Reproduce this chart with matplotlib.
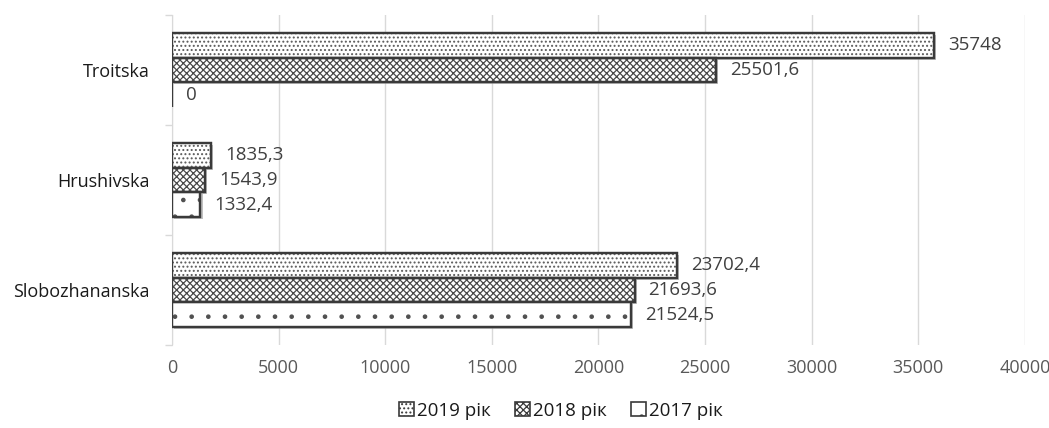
import matplotlib
matplotlib.use("Agg")
import matplotlib.pyplot as plt
import matplotlib.patheffects as pe
import matplotlib.patches as mpatches
import numpy as np

plt.rcParams['font.family'] = ['Open Sans', 'DejaVu Sans']
plt.rcParams['hatch.linewidth'] = 0.9

categories = ["Slobozhananska", "Hrushivska", "Troitska"]
series_names = ["2019 рік", "2018 рік", "2017 рік"]
v2019 = [23702.4, 1835.3, 35748]
v2018 = [21693.6, 1543.9, 25501.6]
v2017 = [21524.5, 1332.4, 0]
labels2019 = ["23702,4", "1835,3", "35748"]
labels2018 = ["21693,6", "1543,9", "25501,6"]
labels2017 = ["21524,5", "1332,4", "0"]
x_ticks = [0, 5000, 10000, 15000, 20000, 25000, 30000, 35000, 40000]

fig = plt.figure(figsize=(10.49, 4.28), dpi=100)
ax = fig.add_axes([0.164, 0.194, 0.813, 0.771])

y = np.arange(len(categories))
h = 0.225
hatches = ['....', 'xxxxx', '.']
hatch_colors = ['#5a5a5a', '#4a4a4a', '#505050']
series = [v2019, v2018, v2017]
labs = [labels2019, labels2018, labels2017]
offsets = [h, 0, -h]
shadow = [pe.SimplePatchShadow(offset=(1.5, -1.5), shadow_rgbFace='#999999', alpha=0.6), pe.Normal()]
handles = []
for vals, lab, hatch, hc, off, name in zip(series, labs, hatches, hatch_colors, offsets, series_names):
    border = ax.barh(y + off, vals, height=h, color='white', edgecolor='#3a3a3a',
                     linewidth=1.6, zorder=3)
    for b in border:
        b.set_path_effects(shadow)
    ax.barh(y + off, vals, height=h, color='none', edgecolor=hc,
            linewidth=0, hatch=hatch, zorder=4)
    ax.barh(y + off, vals, height=h, fill=False, edgecolor='#3a3a3a',
            linewidth=1.6, zorder=5)
    for b, t in zip(border, lab):
        ax.annotate(t, (b.get_width(), b.get_y() + b.get_height() / 2),
                    xytext=(10, 0), textcoords='offset points', va='center',
                    ha='left', fontsize=13.5, color='#404040')
    handles.append(mpatches.Patch(facecolor='white', edgecolor='#3a3a3a',
                                  linewidth=1.2, hatch=hatch))

ax.set_xlim(0, 40000)
ax.set_ylim(-0.5, 2.5)
ax.set_xticks(x_ticks)
ax.set_xticklabels([str(t) for t in x_ticks], fontsize=13, color='#595959')
ax.tick_params(axis='x', length=0, pad=10)
ax.set_yticks(y)
ax.set_yticklabels(categories, fontsize=13, color='#1a1a1a')
ax.tick_params(axis='y', which='major', length=0, pad=16)
ax.set_yticks([-0.5, 0.5, 1.5, 2.5], minor=True)
ax.tick_params(axis='y', which='minor', length=5, color='#d9d9d9', width=1)
ax.grid(axis='x', color='#d9d9d9', linewidth=1, zorder=0)
for s in ['top', 'right', 'bottom']:
    ax.spines[s].set_visible(False)
ax.spines['left'].set_color('#d9d9d9')

leg = fig.legend(handles=handles, labels=series_names, loc='lower center',
                 bbox_to_anchor=(0.535, -0.02), ncol=3, frameon=False, fontsize=13.5,
                 handlelength=0.8, handleheight=0.8, handletextpad=0.15, columnspacing=1.3)
for t in leg.get_texts():
    t.set_color('#1a1a1a')

fig.savefig("out.png", dpi=100)
